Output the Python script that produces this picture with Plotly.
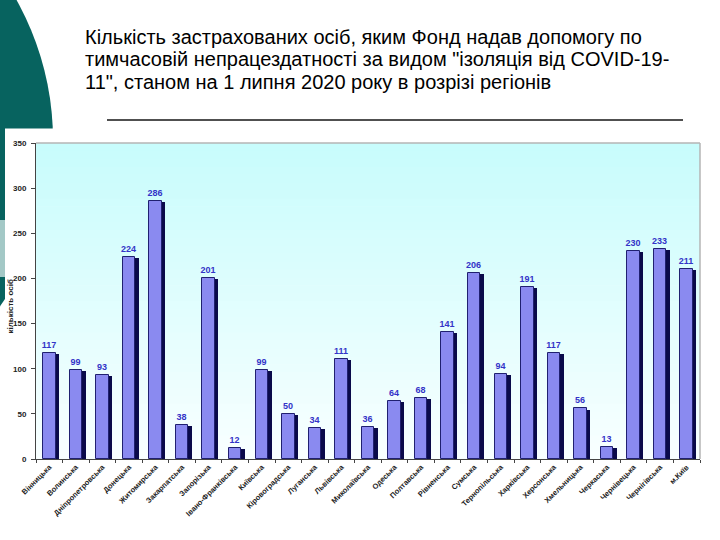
import plotly.graph_objects as go

regions = ["Вінницька", "Волинська", "Дніпропетровська", "Донецька", "Житомирська",
           "Закарпатська", "Запорізька", "Івано-Франківська", "Київська", "Кіровоградська",
           "Луганська", "Львівська", "Миколаївська", "Одеська", "Полтавська",
           "Рівненська", "Сумська", "Тернопільська", "Харківська", "Херсонська",
           "Хмельницька", "Черкаська", "Чернівецька", "Чернігівська", "м.Київ"]
values = [117, 99, 93, 224, 286, 38, 201, 12, 99, 50, 34, 111, 36, 64, 68,
          141, 206, 94, 191, 117, 56, 13, 230, 233, 211]
y_ticks = [0, 50, 100, 150, 200, 250, 300, 350]
y_title = "кількість осіб"

title_lines = ["Кількість застрахованих осіб, яким Фонд надав допомогу по",
               "тимчасовій непрацездатності за видом \"ізоляція від COVID-19-",
               "11\", станом на 1 липня 2020 року в розрізі регіонів"]

W, H = 720, 540
L, R, T, B = 36, 20, 143, 81
PW, PH = W - L - R, H - T - B


def px(x):
    return (x - L) / PW


def py(y):
    return (H - B - y) / PH


n = len(regions)
slot = PW / n
face_w = 12.5 / slot
shadow_dx = 3.5 / slot

fig = go.Figure()
fig.add_trace(go.Bar(
    x=regions, y=[v - 1.2 for v in values],
    width=face_w, offset=-face_w / 2 + shadow_dx,
    marker=dict(color="#0a0a4a", line=dict(width=0)),
    hoverinfo="skip", showlegend=False,
))
fig.add_trace(go.Bar(
    x=regions, y=values,
    width=face_w, offset=-face_w / 2,
    marker=dict(color="#8a8af0", line=dict(color="#202070", width=1)),
    text=[str(v) for v in values], textposition="outside", constraintext="none",
    textfont=dict(family="Liberation Sans", size=9, color="#3333c8", weight="bold"),
    cliponaxis=False, showlegend=False,
))

shapes = []
# teal decorative circle
cx, cy, r = -234, 140, 287
shapes.append(dict(type="circle", xref="paper", yref="paper",
                   x0=px(cx - r), x1=px(cx + r), y0=py(cy + r), y1=py(cy - r),
                   fillcolor="#07635f", line=dict(width=0), layer="below"))
shapes.append(dict(type="rect", xref="paper", yref="paper",
                   x0=px(-10), x1=px(6), y0=py(277), y1=py(220),
                   fillcolor="#a3c8c6", line=dict(width=0), layer="below"))
# white panel
shapes.append(dict(type="rect", xref="paper", yref="paper",
                   x0=px(5), x1=px(725), y0=py(545), y1=py(128.5),
                   fillcolor="white", line=dict(width=0), layer="below"))
# gradient plot background
nstrip = 40
c0 = (200, 252, 252)
c1 = (248, 255, 255)
for i in range(nstrip):
    t = i / (nstrip - 1)
    col = tuple(round(c0[k] + (c1[k] - c0[k]) * t) for k in range(3))
    y1 = 1 - i / nstrip
    y0 = 1 - (i + 1) / nstrip - 0.002
    shapes.append(dict(type="rect", xref="paper", yref="paper",
                       x0=0, x1=1, y0=max(y0, 0), y1=y1,
                       fillcolor="rgb(%d,%d,%d)" % col, line=dict(width=0),
                       layer="below"))
# top/right border of plot area
shapes.append(dict(type="line", xref="paper", yref="paper", x0=0, x1=1, y0=1, y1=1,
                   line=dict(color="#b4b4b4", width=1.5), layer="above"))
shapes.append(dict(type="line", xref="paper", yref="paper", x0=1, x1=1, y0=0, y1=1,
                   line=dict(color="#b4b4b4", width=1.5), layer="above"))
# title underline
shapes.append(dict(type="line", xref="paper", yref="paper",
                   x0=px(107), x1=px(683), y0=py(120), y1=py(120),
                   line=dict(color="#505050", width=2)))

annotations = []
for i, line in enumerate(title_lines):
    annotations.append(dict(
        text=line, xref="paper", yref="paper",
        x=px(84), y=py(37 + 22.3 * i), xanchor="left", yanchor="middle", align="left",
        showarrow=False, borderpad=0,
        font=dict(family="Liberation Sans", size=20, color="black"),
    ))
annotations.append(dict(
    text=y_title, xref="paper", yref="paper", x=px(9.5), y=py(307),
    xanchor="center", yanchor="middle", textangle=-90, showarrow=False, borderpad=0,
    font=dict(family="Liberation Sans", size=8, color="#222222", weight="bold"),
))

fig.update_layout(
    width=W, height=H,
    margin=dict(l=L, r=R, t=T, b=B, autoexpand=False),
    paper_bgcolor="white", plot_bgcolor="rgba(0,0,0,0)",
    barmode="overlay", bargap=0,
    shapes=shapes,
    font=dict(family="Liberation Sans"),
    annotations=annotations,
)
fig.update_xaxes(
    type="category", tickangle=-45, showgrid=False, automargin=False,
    tickfont=dict(family="Liberation Sans", size=7.5, color="#222222", weight="bold"),
    showline=True, linecolor="#444444", linewidth=1,
    ticks="outside", ticklen=3, tickcolor="#444444", tickson="boundaries",
    range=[-0.5, n - 0.5],
)
fig.update_yaxes(
    range=[0, 350], tickvals=y_ticks, showgrid=False, zeroline=False, automargin=False,
    tickfont=dict(family="Liberation Sans", size=8, color="#222222", weight="bold"),
    showline=True, linecolor="#444444", linewidth=1,
    ticks="outside", ticklen=4, tickcolor="#444444", ticklabelstandoff=3,
)

fig.write_html("out.html")
